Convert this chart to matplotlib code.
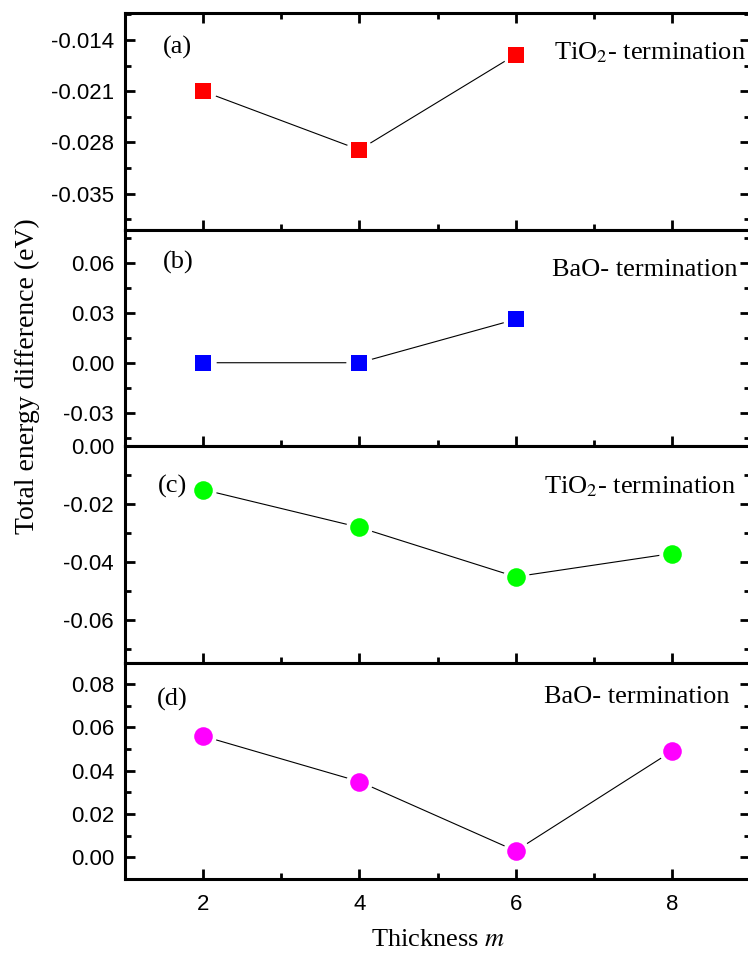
import matplotlib
matplotlib.use('Agg')
import matplotlib.pyplot as plt
from matplotlib.ticker import MultipleLocator, FormatStrFormatter

# total energy difference vs. slab thickness m
thick_ab = [2, 4, 6]
energy_a = [-0.021, -0.029, -0.016]   # TiO2 termination
energy_b = [0.0, 0.0, 0.026]          # BaO termination
thick_cd = [2, 4, 6, 8]
energy_c = [-0.015, -0.028, -0.045, -0.037]  # TiO2 termination
energy_d = [0.056, 0.035, 0.003, 0.049]      # BaO termination

tags = ['(a)', '(b)', '(c)', '(d)']
terms = ['TiO$_2$- termination', 'BaO- termination',
         'TiO$_2$- termination', 'BaO- termination']

plt.rcParams['mathtext.fontset'] = 'stix'
plt.rcParams['font.family'] = 'Liberation Sans'

serif = {'family': 'Liberation Serif', 'size': 19}

# (x, y, marker, size, colour, ylim, major step, format, tag pos, term pos)
panels = [
    (thick_ab, energy_a, 's', 12, '#ff0000', (-0.0399, -0.0103), 0.007, '%.3f',
     (0.061, 0.843), (0.686, 0.787)),
    (thick_ab, energy_b, 's', 12, '#0000ff', (-0.05, 0.08), 0.03, '%.2f',
     (0.061, 0.847), (0.684, 0.787)),
    (thick_cd, energy_c, 'o', 13.4, '#00ff00', (-0.0745, 0.0), 0.02, '%.2f',
     (0.053, 0.811), (0.671, 0.779)),
    (thick_cd, energy_d, 'o', 13.4, '#ff00ff', (-0.01, 0.09), 0.02, '%.2f',
     (0.051, 0.830), (0.670, 0.811)),
]

fig, axes = plt.subplots(4, 1, sharex=True, figsize=(7.48, 9.58), dpi=100)
fig.subplots_adjust(left=125/748, right=750/748, top=1-13/958,
                    bottom=1-879/958, hspace=0)

for i, (ax, p) in enumerate(zip(axes, panels)):
    x, y, mk, ms, col, ylim, step, fmt, tpos, lpos = p
    ax.plot(x, y, '-', color='k', lw=0.8, zorder=2)
    # white halo so the connecting line stops short of each symbol
    ax.plot(x, y, ls='none', marker='o', ms=19, mfc='white', mec='none', zorder=3)
    ax.plot(x, y, ls='none', marker=mk, ms=ms, mfc=col, mec=col, mew=0, zorder=4)

    ax.set_xlim(1, 9)
    ax.set_ylim(*ylim)
    ax.xaxis.set_major_locator(MultipleLocator(2))
    ax.xaxis.set_minor_locator(MultipleLocator(1))
    ax.yaxis.set_major_locator(MultipleLocator(step))
    ax.yaxis.set_minor_locator(MultipleLocator(step / 2))
    ax.yaxis.set_major_formatter(FormatStrFormatter(fmt))

    ax.tick_params(which='both', direction='in', right=True, top=(i == 0),
                   width=2, labelsize=16)
    ax.tick_params(axis='y', pad=8)
    ax.tick_params(axis='x', pad=11)
    ax.tick_params(which='major', length=7)
    ax.tick_params(which='minor', length=4)
    for s in ax.spines.values():
        s.set_linewidth(2.2)

    ax.text(tpos[0], tpos[1], tags[i], transform=ax.transAxes,
            ha='left', va='center', zorder=5, **serif)
    ax.text(lpos[0], lpos[1], terms[i], transform=ax.transAxes,
            ha='left', va='baseline', zorder=5, **serif)

fig.text(27/748, 1-376/958, 'Total energy difference (eV)', rotation=90,
         ha='center', va='center', family='Liberation Serif', size=20)
fig.text(438/748, 1-940/958, 'Thickness $m$', ha='center', va='center',
         **serif)

fig.savefig('out.png', dpi=100)
